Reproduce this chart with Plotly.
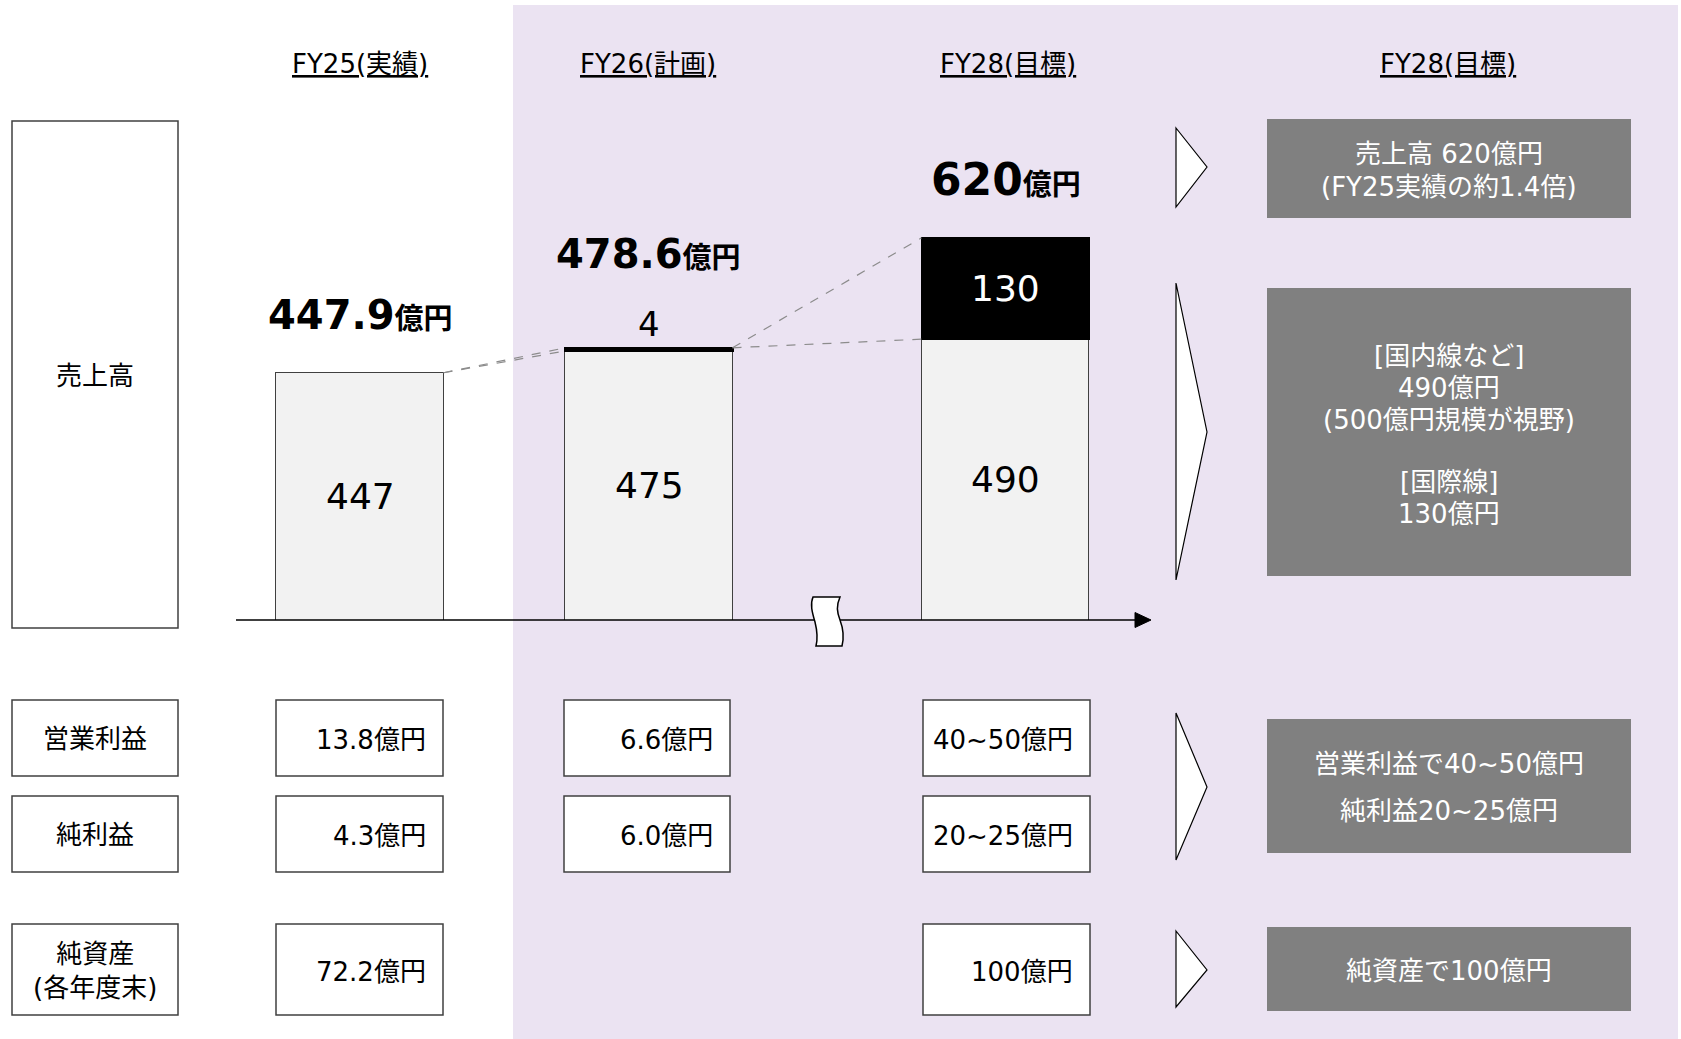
import plotly.graph_objects as go

W, H = 1681, 1039

# ---------------- data ----------------
years = ["FY25(実績)", "FY26(計画)", "FY28(目標)"]
sales_domestic = [447, 475, 490]          # 国内線など (億円)
sales_intl = [None, 4, 130]               # 国際線 (億円)
sales_total_text = ["447.9", "478.6", "620"]
op_profit = ["13.8億円", "6.6億円", "40~50億円"]
net_profit = ["4.3億円", "6.0億円", "20~25億円"]
net_assets = ["72.2億円", None, "100億円"]
row_labels = ["売上高", "営業利益", "純利益", "純資産<br>(各年度末)"]
summary_header = "FY28(目標)"
summary_sales = ["売上高 620億円", "(FY25実績の約1.4倍)"]
summary_mix = ["[国内線など]", "490億円", "(500億円規模が視野)", "[国際線]", "130億円"]
summary_profit = ["営業利益で40~50億円", "純利益20~25億円"]
summary_assets = ["純資産で100億円"]

# ---------------- layout constants ----------------
FONT = "DejaVu Sans, Noto Sans CJK JP, sans-serif"
bar_pos = [0.0, 1.0, 2.232]
bar_w = 0.578
Y0 = 130.0
PX_PER_UNIT = 0.78
AX_Y = 620
TOP_Y = 160
y_top = Y0 + (AX_Y - TOP_Y) / PX_PER_UNIT
x_left_px, x_right_px = 236, 1150
xr0 = (x_left_px - 360) / 289.0
xr1 = (x_right_px - 360) / 289.0

BOX_LINE = "#404040"
GRAY = "#808080"
PURPLE = "#EBE3F2"


def px(x):
    return x / W


def py(y):
    return 1 - y / H


shapes = []
annos = []


def rect(x0, y0, x1, y1, fill, line=None, lw=1.5, layer="above"):
    shapes.append(dict(type="rect", xref="paper", yref="paper",
                       x0=px(x0), x1=px(x1), y0=py(y1), y1=py(y0),
                       fillcolor=fill, layer=layer,
                       line=dict(color=line if line else "rgba(0,0,0,0)", width=lw if line else 0)))


def text(x, y, s, size=26, color="black", xanchor="center", yanchor="middle"):
    annos.append(dict(xref="paper", yref="paper", x=px(x), y=py(y), text=s,
                      showarrow=False, xanchor=xanchor, yanchor=yanchor,
                      font=dict(family=FONT, size=size, color=color)))


# background band
rect(513, 5, 1678, 1039, PURPLE, layer="below")

# ---------------- bars ----------------
fig = go.Figure()
fig.add_trace(go.Bar(x=bar_pos, y=sales_domestic, width=bar_w,
                     marker=dict(color="#F2F2F2", line=dict(color=BOX_LINE, width=1.2)),
                     hoverinfo="skip", showlegend=False))
fig.add_trace(go.Bar(x=bar_pos, y=sales_intl, width=bar_w,
                     marker=dict(color="#000000", line=dict(color="#000000", width=2)),
                     hoverinfo="skip", showlegend=False))

# dashed connectors between stack levels
tops = [d + (i or 0) for d, i in zip(sales_domestic, sales_intl)]
cx, cy = [], []
for k in range(len(bar_pos) - 1):
    xa = bar_pos[k] + bar_w / 2
    xb = bar_pos[k + 1] - bar_w / 2
    for ya, yb in [(tops[k], tops[k + 1]), (tops[k], sales_domestic[k + 1])]:
        cx += [xa, xb, None]
        cy += [ya, yb, None]
fig.add_trace(go.Scatter(x=cx, y=cy, mode="lines",
                         line=dict(color="#8C8C8C", width=1.2, dash="dash"),
                         hoverinfo="skip", showlegend=False))

# in-bar labels
for k in range(len(bar_pos)):
    mid = (max(Y0, 0) + sales_domestic[k]) / 2
    annos.append(dict(xref="x", yref="y", x=bar_pos[k], y=mid, text=str(sales_domestic[k]),
                      showarrow=False, font=dict(family=FONT, size=36, color="black")))
    if sales_intl[k]:
        if sales_intl[k] > 20:
            annos.append(dict(xref="x", yref="y", x=bar_pos[k],
                              y=sales_domestic[k] + sales_intl[k] / 2, text=str(sales_intl[k]),
                              showarrow=False, font=dict(family=FONT, size=36, color="white")))
        else:
            annos.append(dict(xref="x", yref="y", x=bar_pos[k], y=tops[k], yanchor="bottom",
                              yshift=2, text=str(sales_intl[k]),
                              showarrow=False, font=dict(family=FONT, size=34, color="black")))

# total labels
tot_pos = [(360, 315, 40), (648, 254, 40), (1006, 179, 44)]
for (x, y, s), t in zip(tot_pos, sales_total_text):
    text(x, y, f"<b><span style='font-size:{s}px'>{t}</span><span style='font-size:29px'>億円</span></b>")

# axis line, arrow, break
shapes.append(dict(type="line", xref="paper", yref="paper", x0=px(236), x1=px(1140),
                   y0=py(AX_Y), y1=py(AX_Y), line=dict(color="black", width=1.5), layer="above"))
shapes.append(dict(type="path", xref="paper", yref="paper",
                   path=f"M {px(1135)},{py(612.5)} L {px(1151)},{py(AX_Y)} L {px(1135)},{py(627.5)} Z",
                   fillcolor="black", line=dict(color="black", width=1), layer="above"))
bp = [(813, 597), (840, 597), (836, 606), (837, 612), (840, 620), (843, 628), (844, 638), (842, 646),
      (816, 646), (818, 638), (817, 630), (815, 622), (812, 612), (810, 604), (813, 597)]
P = [f"{px(a)},{py(b)}" for a, b in bp]
path = (f"M {P[0]} L {P[1]} C {P[2]} {P[3]} {P[4]} C {P[5]} {P[6]} {P[7]} "
        f"L {P[8]} C {P[9]} {P[10]} {P[11]} C {P[12]} {P[13]} {P[14]} Z")
shapes.append(dict(type="path", xref="paper", yref="paper", path=path,
                   fillcolor="white", line=dict(color="black", width=1.5), layer="above"))

# headers
hdr_x = [360, 648, 1008]
for x, t in zip(hdr_x, years):
    text(x, 64, f"<u>{t}</u>")
text(1448, 64, f"<u>{summary_header}</u>")

# left label boxes
rect(12, 121, 178, 628, "white", BOX_LINE)
text(95, 376, row_labels[0])
rows_y = [(700, 776), (796, 872), (924, 1015)]
for (y0, y1), lab in zip(rows_y, row_labels[1:]):
    rect(12, y0, 178, y1, "white", BOX_LINE)
    text(95, (y0 + y1) / 2 + 1, lab)

# value boxes
cols = [(276, 443), (564, 730), (923, 1090)]
for series, (y0, y1) in zip([op_profit, net_profit, net_assets], rows_y):
    for (x0, x1), v in zip(cols, series):
        if v is None:
            continue
        rect(x0, y0, x1, y1, "white", BOX_LINE)
        text(x1 - 15, (y0 + y1) / 2 + 2, v, xanchor="right")

# arrows
for yt, ym, yb in [(128, 167, 207), (283, 432, 580), (713, 787, 860), (931, 970, 1007)]:
    shapes.append(dict(type="path", xref="paper", yref="paper",
                       path=f"M {px(1176)},{py(yt)} L {px(1207)},{py(ym)} L {px(1176)},{py(yb)} Z",
                       fillcolor="white", line=dict(color="black", width=1.2), layer="above"))

# summary boxes
rect(1267, 119, 1631, 218, GRAY)
for y, t in zip([154, 187], summary_sales):
    text(1449, y, t, color="white")
rect(1267, 288, 1631, 576, GRAY)
for y, t in zip([356, 388, 420, 482, 514], summary_mix):
    text(1449, y, t, color="white")
rect(1267, 719, 1631, 853, GRAY)
for y, t in zip([764, 811], summary_profit):
    text(1449, y, t, color="white")
rect(1267, 927, 1631, 1011, GRAY)
text(1449, 971, summary_assets[0], color="white")

fig.update_layout(
    width=W, height=H, margin=dict(l=0, r=0, t=0, b=0),
    paper_bgcolor="white", plot_bgcolor="rgba(0,0,0,0)",
    barmode="stack", bargap=0,
    xaxis=dict(domain=[px(x_left_px), px(x_right_px)], range=[xr0, xr1],
               visible=False, fixedrange=True),
    yaxis=dict(domain=[py(AX_Y), py(TOP_Y)], range=[Y0, y_top],
               visible=False, fixedrange=True),
    shapes=shapes, annotations=annos,
    font=dict(family=FONT),
)

fig.write_html("out.html")
